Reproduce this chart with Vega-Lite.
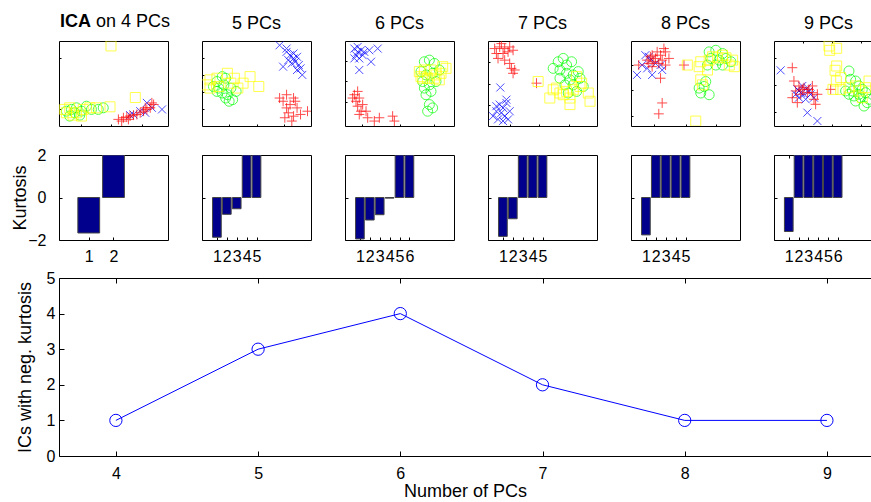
{
  "$schema": "https://vega.github.io/schema/vega-lite/v6.json",
  "padding": {"left": 11, "top": 12, "right": 0, "bottom": 0},
  "datasets": {
    "sc": [
      {"p":4,"g":"b","x":0.806,"y":0.272},{"p":4,"g":"b","x":0.852,"y":0.214},{"p":4,"g":"b","x":0.945,"y":0.195},{"p":4,"g":"b","x":0.745,"y":0.175},{"p":4,"g":"b","x":0.683,"y":0.136},{"p":4,"g":"b","x":0.791,"y":0.156},{"p":4,"g":"b","x":0.652,"y":0.128},
      {"p":4,"g":"r","x":0.545,"y":0.078},{"p":4,"g":"r","x":0.591,"y":0.097},{"p":4,"g":"r","x":0.622,"y":0.105},{"p":4,"g":"r","x":0.652,"y":0.117},{"p":4,"g":"r","x":0.683,"y":0.128},{"p":4,"g":"r","x":0.714,"y":0.136},{"p":4,"g":"r","x":0.745,"y":0.156},{"p":4,"g":"r","x":0.775,"y":0.175},{"p":4,"g":"r","x":0.806,"y":0.195},{"p":4,"g":"r","x":0.837,"y":0.214},{"p":4,"g":"r","x":0.868,"y":0.253},{"p":4,"g":"r","x":0.575,"y":0.058},{"p":4,"g":"r","x":0.637,"y":0.078},{"p":4,"g":"r","x":0.791,"y":0.214},{"p":4,"g":"r","x":0.852,"y":0.272},
      {"p":4,"g":"g","x":0.068,"y":0.175},{"p":4,"g":"g","x":0.114,"y":0.195},{"p":4,"g":"g","x":0.16,"y":0.214},{"p":4,"g":"g","x":0.206,"y":0.175},{"p":4,"g":"g","x":0.252,"y":0.233},{"p":4,"g":"g","x":0.298,"y":0.195},{"p":4,"g":"g","x":0.36,"y":0.195},{"p":4,"g":"g","x":0.406,"y":0.214},{"p":4,"g":"g","x":0.098,"y":0.117},{"p":4,"g":"g","x":0.191,"y":0.128},{"p":4,"g":"g","x":0.145,"y":0.156},
      {"p":4,"g":"y","x":0.052,"y":0.195},{"p":4,"g":"y","x":0.098,"y":0.214},{"p":4,"g":"y","x":0.16,"y":0.156},{"p":4,"g":"y","x":0.222,"y":0.195},{"p":4,"g":"y","x":0.283,"y":0.214},{"p":4,"g":"y","x":0.345,"y":0.214},{"p":4,"g":"y","x":0.468,"y":0.226},{"p":4,"g":"y","x":0.129,"y":0.128},{"p":4,"g":"y","x":0.068,"y":0.156},{"p":4,"g":"y","x":0.206,"y":0.117},{"p":4,"g":"y","x":0.477,"y":0.942},{"p":4,"g":"y","x":0.7,"y":0.335},

      {"p":5,"g":"b","x":0.712,"y":0.95},{"p":5,"g":"b","x":0.776,"y":0.872},{"p":5,"g":"b","x":0.808,"y":0.833},{"p":5,"g":"b","x":0.84,"y":0.795},{"p":5,"g":"b","x":0.872,"y":0.814},{"p":5,"g":"b","x":0.824,"y":0.736},{"p":5,"g":"b","x":0.856,"y":0.756},{"p":5,"g":"b","x":0.888,"y":0.717},{"p":5,"g":"b","x":0.904,"y":0.678},{"p":5,"g":"b","x":0.92,"y":0.601},{"p":5,"g":"b","x":0.744,"y":0.698},{"p":5,"g":"b","x":0.792,"y":0.775},{"p":5,"g":"b","x":0.776,"y":0.911},{"p":5,"g":"b","x":0.872,"y":0.659},{"p":5,"g":"b","x":0.84,"y":0.853},
      {"p":5,"g":"r","x":0.776,"y":0.368},{"p":5,"g":"r","x":0.84,"y":0.329},{"p":5,"g":"r","x":0.744,"y":0.291},{"p":5,"g":"r","x":0.808,"y":0.252},{"p":5,"g":"r","x":0.872,"y":0.213},{"p":5,"g":"r","x":0.792,"y":0.155},{"p":5,"g":"r","x":0.84,"y":0.116},{"p":5,"g":"r","x":0.76,"y":0.097},{"p":5,"g":"r","x":0.904,"y":0.136},{"p":5,"g":"r","x":0.824,"y":0.058},{"p":5,"g":"r","x":0.712,"y":0.329},{"p":5,"g":"r","x":0.968,"y":0.174},{"p":5,"g":"r","x":0.856,"y":0.291},{"p":5,"g":"r","x":0.776,"y":0.213},
      {"p":5,"g":"g","x":0.137,"y":0.523},{"p":5,"g":"g","x":0.185,"y":0.581},{"p":5,"g":"g","x":0.217,"y":0.562},{"p":5,"g":"g","x":0.201,"y":0.484},{"p":5,"g":"g","x":0.153,"y":0.446},{"p":5,"g":"g","x":0.185,"y":0.388},{"p":5,"g":"g","x":0.233,"y":0.368},{"p":5,"g":"g","x":0.281,"y":0.31},{"p":5,"g":"g","x":0.249,"y":0.291},{"p":5,"g":"g","x":0.137,"y":0.407},{"p":5,"g":"g","x":0.105,"y":0.465},{"p":5,"g":"g","x":0.265,"y":0.446},{"p":5,"g":"g","x":0.313,"y":0.407},{"p":5,"g":"g","x":0.217,"y":0.329},
      {"p":5,"g":"y","x":0.073,"y":0.543},{"p":5,"g":"y","x":0.137,"y":0.562},{"p":5,"g":"y","x":0.233,"y":0.62},{"p":5,"g":"y","x":0.297,"y":0.562},{"p":5,"g":"y","x":0.377,"y":0.504},{"p":5,"g":"y","x":0.441,"y":0.581},{"p":5,"g":"y","x":0.521,"y":0.465},{"p":5,"g":"y","x":0.073,"y":0.446},{"p":5,"g":"y","x":0.153,"y":0.465},{"p":5,"g":"y","x":0.329,"y":0.446},{"p":5,"g":"y","x":0.265,"y":0.504},{"p":5,"g":"y","x":0.042,"y":0.484},

      {"p":6,"g":"b","x":0.086,"y":0.911},{"p":6,"g":"b","x":0.116,"y":0.93},{"p":6,"g":"b","x":0.147,"y":0.891},{"p":6,"g":"b","x":0.101,"y":0.833},{"p":6,"g":"b","x":0.131,"y":0.795},{"p":6,"g":"b","x":0.177,"y":0.872},{"p":6,"g":"b","x":0.223,"y":0.891},{"p":6,"g":"b","x":0.3,"y":0.911},{"p":6,"g":"b","x":0.239,"y":0.756},{"p":6,"g":"b","x":0.131,"y":0.659},{"p":6,"g":"b","x":0.086,"y":0.795},{"p":6,"g":"b","x":0.162,"y":0.833},{"p":6,"g":"b","x":0.116,"y":0.872},
      {"p":6,"g":"r","x":0.086,"y":0.368},{"p":6,"g":"r","x":0.116,"y":0.407},{"p":6,"g":"r","x":0.131,"y":0.329},{"p":6,"g":"r","x":0.101,"y":0.291},{"p":6,"g":"r","x":0.116,"y":0.233},{"p":6,"g":"r","x":0.147,"y":0.174},{"p":6,"g":"r","x":0.131,"y":0.136},{"p":6,"g":"r","x":0.193,"y":0.174},{"p":6,"g":"r","x":0.208,"y":0.097},{"p":6,"g":"r","x":0.269,"y":0.058},{"p":6,"g":"r","x":0.315,"y":0.097},{"p":6,"g":"r","x":0.437,"y":0.116},{"p":6,"g":"r","x":0.453,"y":0.058},{"p":6,"g":"r","x":0.07,"y":0.329},{"p":6,"g":"r","x":0.162,"y":0.252},
      {"p":6,"g":"g","x":0.728,"y":0.756},{"p":6,"g":"g","x":0.774,"y":0.775},{"p":6,"g":"g","x":0.82,"y":0.736},{"p":6,"g":"g","x":0.697,"y":0.64},{"p":6,"g":"g","x":0.743,"y":0.601},{"p":6,"g":"g","x":0.804,"y":0.62},{"p":6,"g":"g","x":0.865,"y":0.659},{"p":6,"g":"g","x":0.713,"y":0.523},{"p":6,"g":"g","x":0.774,"y":0.484},{"p":6,"g":"g","x":0.835,"y":0.523},{"p":6,"g":"g","x":0.743,"y":0.368},{"p":6,"g":"g","x":0.789,"y":0.407},{"p":6,"g":"g","x":0.774,"y":0.252},{"p":6,"g":"g","x":0.758,"y":0.174},{"p":6,"g":"g","x":0.804,"y":0.213},{"p":6,"g":"g","x":0.728,"y":0.446},
      {"p":6,"g":"y","x":0.682,"y":0.64},{"p":6,"g":"y","x":0.728,"y":0.659},{"p":6,"g":"y","x":0.789,"y":0.659},{"p":6,"g":"y","x":0.835,"y":0.601},{"p":6,"g":"y","x":0.896,"y":0.698},{"p":6,"g":"y","x":0.927,"y":0.678},{"p":6,"g":"y","x":0.881,"y":0.62},{"p":6,"g":"y","x":0.713,"y":0.562},{"p":6,"g":"y","x":0.758,"y":0.562},{"p":6,"g":"y","x":0.82,"y":0.562},{"p":6,"g":"y","x":0.865,"y":0.543},{"p":6,"g":"y","x":0.697,"y":0.581},

      {"p":7,"g":"b","x":0.113,"y":0.453},{"p":7,"g":"b","x":0.107,"y":0.252},{"p":7,"g":"b","x":0.138,"y":0.213},{"p":7,"g":"b","x":0.169,"y":0.271},{"p":7,"g":"b","x":0.077,"y":0.174},{"p":7,"g":"b","x":0.123,"y":0.155},{"p":7,"g":"b","x":0.153,"y":0.116},{"p":7,"g":"b","x":0.184,"y":0.078},{"p":7,"g":"b","x":0.092,"y":0.078},{"p":7,"g":"b","x":0.046,"y":0.116},{"p":7,"g":"b","x":0.199,"y":0.174},{"p":7,"g":"b","x":0.138,"y":0.058},{"p":7,"g":"b","x":0.169,"y":0.31},{"p":7,"g":"b","x":0.077,"y":0.233},
      {"p":7,"g":"r","x":0.061,"y":0.911},{"p":7,"g":"r","x":0.107,"y":0.93},{"p":7,"g":"r","x":0.153,"y":0.911},{"p":7,"g":"r","x":0.199,"y":0.93},{"p":7,"g":"r","x":0.077,"y":0.853},{"p":7,"g":"r","x":0.138,"y":0.853},{"p":7,"g":"r","x":0.184,"y":0.872},{"p":7,"g":"r","x":0.23,"y":0.891},{"p":7,"g":"r","x":0.092,"y":0.795},{"p":7,"g":"r","x":0.153,"y":0.775},{"p":7,"g":"r","x":0.199,"y":0.736},{"p":7,"g":"r","x":0.215,"y":0.678},{"p":7,"g":"r","x":0.245,"y":0.659},{"p":7,"g":"r","x":0.23,"y":0.62},{"p":7,"g":"r","x":0.123,"y":0.969},{"p":7,"g":"r","x":0.445,"y":0.504},
      {"p":7,"g":"g","x":0.598,"y":0.678},{"p":7,"g":"g","x":0.644,"y":0.756},{"p":7,"g":"g","x":0.69,"y":0.795},{"p":7,"g":"g","x":0.721,"y":0.717},{"p":7,"g":"g","x":0.767,"y":0.756},{"p":7,"g":"g","x":0.66,"y":0.659},{"p":7,"g":"g","x":0.721,"y":0.62},{"p":7,"g":"g","x":0.782,"y":0.601},{"p":7,"g":"g","x":0.828,"y":0.64},{"p":7,"g":"g","x":0.844,"y":0.562},{"p":7,"g":"g","x":0.752,"y":0.543},{"p":7,"g":"g","x":0.706,"y":0.484},{"p":7,"g":"g","x":0.782,"y":0.484},{"p":7,"g":"g","x":0.874,"y":0.465},{"p":7,"g":"g","x":0.66,"y":0.562},{"p":7,"g":"g","x":0.813,"y":0.407},{"p":7,"g":"g","x":0.736,"y":0.388},
      {"p":7,"g":"y","x":0.46,"y":0.523},{"p":7,"g":"y","x":0.567,"y":0.329},{"p":7,"g":"y","x":0.629,"y":0.446},{"p":7,"g":"y","x":0.66,"y":0.388},{"p":7,"g":"y","x":0.721,"y":0.407},{"p":7,"g":"y","x":0.752,"y":0.329},{"p":7,"g":"y","x":0.782,"y":0.426},{"p":7,"g":"y","x":0.813,"y":0.581},{"p":7,"g":"y","x":0.859,"y":0.504},{"p":7,"g":"y","x":0.92,"y":0.388},{"p":7,"g":"y","x":0.936,"y":0.291},{"p":7,"g":"y","x":0.752,"y":0.252},{"p":7,"g":"y","x":0.69,"y":0.368},{"p":7,"g":"y","x":0.598,"y":0.426},{"p":7,"g":"y","x":0.844,"y":0.465},

      {"p":8,"g":"b","x":0.132,"y":0.833},{"p":8,"g":"b","x":0.178,"y":0.775},{"p":8,"g":"b","x":0.055,"y":0.601},{"p":8,"g":"b","x":0.194,"y":0.601},{"p":8,"g":"b","x":0.271,"y":0.717},{"p":8,"g":"b","x":0.286,"y":0.659},{"p":8,"g":"b","x":0.225,"y":0.736},{"p":8,"g":"b","x":0.102,"y":0.717},{"p":8,"g":"b","x":0.163,"y":0.814},{"p":8,"g":"b","x":0.148,"y":0.678},
      {"p":8,"g":"r","x":0.178,"y":0.814},{"p":8,"g":"r","x":0.225,"y":0.795},{"p":8,"g":"r","x":0.271,"y":0.833},{"p":8,"g":"r","x":0.209,"y":0.756},{"p":8,"g":"r","x":0.255,"y":0.736},{"p":8,"g":"r","x":0.302,"y":0.911},{"p":8,"g":"r","x":0.317,"y":0.872},{"p":8,"g":"r","x":0.286,"y":0.775},{"p":8,"g":"r","x":0.163,"y":0.736},{"p":8,"g":"r","x":0.194,"y":0.833},{"p":8,"g":"r","x":0.24,"y":0.872},{"p":8,"g":"r","x":0.317,"y":0.717},{"p":8,"g":"r","x":0.271,"y":0.562},{"p":8,"g":"r","x":0.286,"y":0.271},{"p":8,"g":"r","x":0.255,"y":0.143},{"p":8,"g":"r","x":0.071,"y":0.717},{"p":8,"g":"r","x":0.486,"y":0.717},{"p":8,"g":"r","x":0.148,"y":0.775},{"p":8,"g":"r","x":0.348,"y":0.795},{"p":8,"g":"r","x":0.194,"y":0.698},
      {"p":8,"g":"g","x":0.717,"y":0.872},{"p":8,"g":"g","x":0.778,"y":0.891},{"p":8,"g":"g","x":0.84,"y":0.853},{"p":8,"g":"g","x":0.732,"y":0.795},{"p":8,"g":"g","x":0.809,"y":0.775},{"p":8,"g":"g","x":0.871,"y":0.795},{"p":8,"g":"g","x":0.917,"y":0.756},{"p":8,"g":"g","x":0.778,"y":0.717},{"p":8,"g":"g","x":0.84,"y":0.717},{"p":8,"g":"g","x":0.702,"y":0.717},{"p":8,"g":"g","x":0.671,"y":0.465},{"p":8,"g":"g","x":0.64,"y":0.388},{"p":8,"g":"g","x":0.717,"y":0.368},{"p":8,"g":"g","x":0.686,"y":0.523},{"p":8,"g":"g","x":0.625,"y":0.446},
      {"p":8,"g":"y","x":0.517,"y":0.717},{"p":8,"g":"y","x":0.625,"y":0.698},{"p":8,"g":"y","x":0.64,"y":0.756},{"p":8,"g":"y","x":0.717,"y":0.775},{"p":8,"g":"y","x":0.748,"y":0.814},{"p":8,"g":"y","x":0.794,"y":0.802},{"p":8,"g":"y","x":0.871,"y":0.802},{"p":8,"g":"y","x":0.932,"y":0.775},{"p":8,"g":"y","x":0.948,"y":0.698},{"p":8,"g":"y","x":0.702,"y":0.659},{"p":8,"g":"y","x":0.64,"y":0.543},{"p":8,"g":"y","x":0.655,"y":0.484},{"p":8,"g":"y","x":0.594,"y":0.058},{"p":8,"g":"y","x":0.84,"y":0.833},{"p":8,"g":"y","x":0.902,"y":0.717},

      {"p":9,"g":"b","x":0.061,"y":0.655},{"p":9,"g":"b","x":0.214,"y":0.431},{"p":9,"g":"b","x":0.245,"y":0.392},{"p":9,"g":"b","x":0.275,"y":0.373},{"p":9,"g":"b","x":0.229,"y":0.333},{"p":9,"g":"b","x":0.306,"y":0.451},{"p":9,"g":"b","x":0.26,"y":0.471},{"p":9,"g":"b","x":0.321,"y":0.412},{"p":9,"g":"b","x":0.199,"y":0.373},{"p":9,"g":"b","x":0.291,"y":0.314},{"p":9,"g":"b","x":0.367,"y":0.333},{"p":9,"g":"b","x":0.306,"y":0.157},{"p":9,"g":"b","x":0.398,"y":0.059},{"p":9,"g":"b","x":0.229,"y":0.412},{"p":9,"g":"b","x":0.336,"y":0.373},
      {"p":9,"g":"r","x":0.168,"y":0.686},{"p":9,"g":"r","x":0.183,"y":0.529},{"p":9,"g":"r","x":0.229,"y":0.471},{"p":9,"g":"r","x":0.275,"y":0.451},{"p":9,"g":"r","x":0.321,"y":0.431},{"p":9,"g":"r","x":0.352,"y":0.471},{"p":9,"g":"r","x":0.199,"y":0.412},{"p":9,"g":"r","x":0.245,"y":0.373},{"p":9,"g":"r","x":0.168,"y":0.333},{"p":9,"g":"r","x":0.306,"y":0.392},{"p":9,"g":"r","x":0.367,"y":0.314},{"p":9,"g":"r","x":0.382,"y":0.255},{"p":9,"g":"r","x":0.214,"y":0.275},{"p":9,"g":"r","x":0.52,"y":0.431},{"p":9,"g":"r","x":0.26,"y":0.431},{"p":9,"g":"r","x":0.352,"y":0.392},{"p":9,"g":"r","x":0.398,"y":0.373},
      {"p":9,"g":"g","x":0.688,"y":0.647},{"p":9,"g":"g","x":0.703,"y":0.549},{"p":9,"g":"g","x":0.749,"y":0.529},{"p":9,"g":"g","x":0.78,"y":0.471},{"p":9,"g":"g","x":0.719,"y":0.412},{"p":9,"g":"g","x":0.78,"y":0.373},{"p":9,"g":"g","x":0.841,"y":0.392},{"p":9,"g":"g","x":0.795,"y":0.333},{"p":9,"g":"g","x":0.856,"y":0.275},{"p":9,"g":"g","x":0.749,"y":0.294},{"p":9,"g":"g","x":0.688,"y":0.373},{"p":9,"g":"g","x":0.81,"y":0.431},{"p":9,"g":"g","x":0.734,"y":0.353},{"p":9,"g":"g","x":0.657,"y":0.412},{"p":9,"g":"g","x":0.872,"y":0.314},{"p":9,"g":"g","x":0.826,"y":0.235},
      {"p":9,"g":"y","x":0.505,"y":0.941},{"p":9,"g":"y","x":0.575,"y":0.914},{"p":9,"g":"y","x":0.511,"y":0.89},{"p":9,"g":"y","x":0.575,"y":0.706},{"p":9,"g":"y","x":0.56,"y":0.655},{"p":9,"g":"y","x":0.572,"y":0.529},{"p":9,"g":"y","x":0.541,"y":0.431},{"p":9,"g":"y","x":0.612,"y":0.431},{"p":9,"g":"y","x":0.688,"y":0.451},{"p":9,"g":"y","x":0.78,"y":0.412},{"p":9,"g":"y","x":0.841,"y":0.451},{"p":9,"g":"y","x":0.872,"y":0.529},{"p":9,"g":"y","x":0.612,"y":0.569},{"p":9,"g":"y","x":0.749,"y":0.471},{"p":9,"g":"y","x":0.81,"y":0.333}
    ],
    "kb": [
      {"p":4,"i":1,"k":-1.67},{"p":4,"i":2,"k":2},
      {"p":5,"i":1,"k":-1.87},{"p":5,"i":2,"k":-0.79},{"p":5,"i":3,"k":-0.53},{"p":5,"i":4,"k":2},{"p":5,"i":5,"k":2},
      {"p":6,"i":1,"k":-1.95},{"p":6,"i":2,"k":-1.06},{"p":6,"i":3,"k":-0.81},{"p":6,"i":4,"k":-0.03},{"p":6,"i":5,"k":2},{"p":6,"i":6,"k":2},
      {"p":7,"i":1,"k":-1.83},{"p":7,"i":2,"k":-1.0},{"p":7,"i":3,"k":2},{"p":7,"i":4,"k":2},{"p":7,"i":5,"k":2},
      {"p":8,"i":1,"k":-1.76},{"p":8,"i":2,"k":2},{"p":8,"i":3,"k":2},{"p":8,"i":4,"k":2},{"p":8,"i":5,"k":2},
      {"p":9,"i":1,"k":-1.6},{"p":9,"i":2,"k":2},{"p":9,"i":3,"k":2},{"p":9,"i":4,"k":2},{"p":9,"i":5,"k":2},{"p":9,"i":6,"k":2}
    ],
    "ln": [
      {"n":4,"c":1},{"n":5,"c":3},{"n":6,"c":4},{"n":7,"c":2},{"n":8,"c":1},{"n":9,"c":1}
    ]
  },
  "spacing": 5,
  "vconcat": [
    {
      "spacing": 19,
      "vconcat": [
        {
          "bounds": "flush",
          "spacing": 34,
          "hconcat": [
            {
              "width": 109, "height": 85,
              "layer": [
                {
                  "data": {"name": "sc"},
                  "transform": [{"filter": "datum.p == 4"}],
                  "mark": {"type": "point", "filled": false, "size": 100, "strokeWidth": 1, "clip": true},
                  "encoding": {
                    "x": {"field": "x", "type": "quantitative", "scale": {"domain": [0, 1], "nice": false, "zero": false}, "axis": {"title": null, "labels": false, "domain": false, "tickSize": -2, "values": [0.2, 0.48, 0.76]}},
                    "y": {"field": "y", "type": "quantitative", "scale": {"domain": [0, 1], "nice": false, "zero": false}, "axis": {"title": null, "labels": false, "domain": false, "tickSize": -2, "values": [0.2, 0.4, 0.6, 0.8]}},
                    "color": {"field": "g", "type": "nominal", "scale": {"domain": ["b", "r", "g", "y"], "range": ["#0000ff", "#ff0000", "#00ff00", "#ffff00"]}, "legend": null},
                    "shape": {"field": "g", "type": "nominal", "scale": {"domain": ["b", "r", "g", "y"], "range": ["M-0.8,-0.8L0.8,0.8M-0.8,0.8L0.8,-0.8", "M-1,0L1,0M0,-1L0,1", "circle", "square"]}, "legend": null}
                  }
                },
                {
                  "data": {"values": [{"t": "ICA"}]},
                  "mark": {"type": "text", "fontWeight": "bold", "fontSize": 18, "align": "right", "baseline": "alphabetic", "color": "black"},
                  "encoding": {"text": {"field": "t"}, "x": {"datum": 0.294, "type": "quantitative"}, "y": {"datum": 1.165, "type": "quantitative"}}
                },
                {
                  "data": {"values": [{"t": "on 4 PCs"}]},
                  "mark": {"type": "text", "fontSize": 18, "align": "left", "baseline": "alphabetic", "color": "black"},
                  "encoding": {"text": {"field": "t"}, "x": {"datum": 0.339, "type": "quantitative"}, "y": {"datum": 1.165, "type": "quantitative"}}
                }
              ]
            },
            {
              "width": 109, "height": 85, "title": "5 PCs",
              "data": {"name": "sc"},
              "transform": [{"filter": "datum.p == 5"}],
              "mark": {"type": "point", "filled": false, "size": 100, "strokeWidth": 1, "clip": true},
              "encoding": {
                "x": {"field": "x", "type": "quantitative", "scale": {"domain": [0, 1], "nice": false, "zero": false}, "axis": {"title": null, "labels": false, "domain": false, "tickSize": -2, "values": [0.25, 0.5, 0.75]}},
                "y": {"field": "y", "type": "quantitative", "scale": {"domain": [0, 1], "nice": false, "zero": false}, "axis": {"title": null, "labels": false, "domain": false, "tickSize": -2, "values": [0.2, 0.4, 0.6, 0.8]}},
                "color": {"field": "g", "type": "nominal", "legend": null},
                "shape": {"field": "g", "type": "nominal", "legend": null}
              }
            },
            {
              "width": 109, "height": 85, "title": "6 PCs",
              "data": {"name": "sc"},
              "transform": [{"filter": "datum.p == 6"}],
              "mark": {"type": "point", "filled": false, "size": 100, "strokeWidth": 1, "clip": true},
              "encoding": {
                "x": {"field": "x", "type": "quantitative", "scale": {"domain": [0, 1], "nice": false, "zero": false}, "axis": {"title": null, "labels": false, "domain": false, "tickSize": -2, "values": [0.16, 0.5, 0.82]}},
                "y": {"field": "y", "type": "quantitative", "scale": {"domain": [0, 1], "nice": false, "zero": false}, "axis": {"title": null, "labels": false, "domain": false, "tickSize": -2, "values": [0.28, 0.53, 0.77]}},
                "color": {"field": "g", "type": "nominal", "legend": null},
                "shape": {"field": "g", "type": "nominal", "legend": null}
              }
            },
            {
              "width": 109, "height": 85, "title": "7 PCs",
              "data": {"name": "sc"},
              "transform": [{"filter": "datum.p == 7"}],
              "mark": {"type": "point", "filled": false, "size": 100, "strokeWidth": 1, "clip": true},
              "encoding": {
                "x": {"field": "x", "type": "quantitative", "scale": {"domain": [0, 1], "nice": false, "zero": false}, "axis": {"title": null, "labels": false, "domain": false, "tickSize": -2, "values": [0.2, 0.47, 0.74]}},
                "y": {"field": "y", "type": "quantitative", "scale": {"domain": [0, 1], "nice": false, "zero": false}, "axis": {"title": null, "labels": false, "domain": false, "tickSize": -2, "values": [0.25, 0.5, 0.75]}},
                "color": {"field": "g", "type": "nominal", "legend": null},
                "shape": {"field": "g", "type": "nominal", "legend": null}
              }
            },
            {
              "width": 109, "height": 85, "title": "8 PCs",
              "data": {"name": "sc"},
              "transform": [{"filter": "datum.p == 8"}],
              "mark": {"type": "point", "filled": false, "size": 100, "strokeWidth": 1, "clip": true},
              "encoding": {
                "x": {"field": "x", "type": "quantitative", "scale": {"domain": [0, 1], "nice": false, "zero": false}, "axis": {"title": null, "labels": false, "domain": false, "tickSize": -2, "values": [0.21, 0.5, 0.78]}},
                "y": {"field": "y", "type": "quantitative", "scale": {"domain": [0, 1], "nice": false, "zero": false}, "axis": {"title": null, "labels": false, "domain": false, "tickSize": -2, "values": [0.12, 0.42, 0.72]}},
                "color": {"field": "g", "type": "nominal", "legend": null},
                "shape": {"field": "g", "type": "nominal", "legend": null}
              }
            },
            {
              "width": 97, "height": 85,
              "title": {"text": "9 PCs", "dx": 6},
              "view": {"stroke": null},
              "data": {"name": "sc"},
              "transform": [{"filter": "datum.p == 9"}],
              "layer": [
                {
                  "mark": {"type": "point", "filled": false, "size": 100, "strokeWidth": 1, "clip": true},
                  "encoding": {
                    "x": {"field": "x", "type": "quantitative", "scale": {"domain": [0, 0.89], "nice": false, "zero": false}, "axis": {"title": null, "labels": false, "domain": true, "tickSize": -2, "values": [0.27, 0.53, 0.8]}},
                    "y": {"field": "y", "type": "quantitative", "scale": {"domain": [0, 1], "nice": false, "zero": false}, "axis": {"title": null, "labels": false, "domain": true, "tickSize": -2, "values": [0.16, 0.48, 0.8]}},
                    "color": {"field": "g", "type": "nominal", "legend": null},
                    "shape": {"field": "g", "type": "nominal", "legend": null}
                  }
                },
                {
                  "mark": {"type": "point", "opacity": 0, "clip": true},
                  "encoding": {
                    "x": {"field": "x", "type": "quantitative", "axis": {"orient": "top", "title": null, "labels": false, "domain": true, "tickSize": -2, "values": [0.27, 0.53, 0.8]}}
                  }
                }
              ],
              "resolve": {"axis": {"x": "independent"}}
            }
          ]
        },
        {
          "bounds": "flush",
          "spacing": 34,
          "hconcat": [
            {
              "width": 109, "height": 85,
              "data": {"name": "kb"},
              "transform": [{"filter": "datum.p == 4"}],
              "mark": {"type": "bar", "orient": "vertical", "width": 21.8, "color": "#00008c", "stroke": "#444444", "strokeWidth": 1, "clip": true},
              "encoding": {
                "x": {"field": "i", "type": "quantitative", "scale": {"domain": [0, 4], "nice": false, "zero": false}, "axis": {"title": null, "domain": false, "values": [1, 2], "tickSize": -3, "labelPadding": 11, "labelOverlap": false, "labelFlush": false, "format": "d"}},
                "y": {"field": "k", "type": "quantitative", "scale": {"domain": [-2, 2], "nice": false}, "axis": {"title": "Kurtosis", "domain": false, "values": [-2, 0, 2], "tickSize": -3, "labelPadding": 16, "titlePadding": -2, "labelOverlap": false, "labelFlush": false}}
              }
            },
            {
              "width": 109, "height": 85,
              "data": {"name": "kb"},
              "transform": [{"filter": "datum.p == 5"}],
              "mark": {"type": "bar", "orient": "vertical", "width": 8.7, "color": "#00008c", "stroke": "#444444", "strokeWidth": 1, "clip": true},
              "encoding": {
                "x": {"field": "i", "type": "quantitative", "scale": {"domain": [0, 10], "nice": false, "zero": false}, "axis": {"title": null, "domain": false, "values": [1, 2, 3, 4, 5], "tickSize": -3, "labelPadding": 11, "labelOverlap": false, "labelFlush": false, "format": "d"}},
                "y": {"field": "k", "type": "quantitative", "scale": {"domain": [-2, 2], "nice": false}, "axis": {"title": null, "domain": false, "labels": false, "values": [-2, 0, 2], "tickSize": -3}}
              }
            },
            {
              "width": 109, "height": 85,
              "data": {"name": "kb"},
              "transform": [{"filter": "datum.p == 6"}],
              "mark": {"type": "bar", "orient": "vertical", "width": 8.7, "color": "#00008c", "stroke": "#444444", "strokeWidth": 1, "clip": true},
              "encoding": {
                "x": {"field": "i", "type": "quantitative", "scale": {"domain": [0, 10], "nice": false, "zero": false}, "axis": {"title": null, "domain": false, "values": [1, 2, 3, 4, 5, 6], "tickSize": -3, "labelPadding": 11, "labelOverlap": false, "labelFlush": false, "format": "d"}},
                "y": {"field": "k", "type": "quantitative", "scale": {"domain": [-2, 2], "nice": false}, "axis": {"title": null, "domain": false, "labels": false, "values": [-2, 0, 2], "tickSize": -3}}
              }
            },
            {
              "width": 109, "height": 85,
              "data": {"name": "kb"},
              "transform": [{"filter": "datum.p == 7"}],
              "mark": {"type": "bar", "orient": "vertical", "width": 8.7, "color": "#00008c", "stroke": "#444444", "strokeWidth": 1, "clip": true},
              "encoding": {
                "x": {"field": "i", "type": "quantitative", "scale": {"domain": [0, 10], "nice": false, "zero": false}, "axis": {"title": null, "domain": false, "values": [1, 2, 3, 4, 5], "tickSize": -3, "labelPadding": 11, "labelOverlap": false, "labelFlush": false, "format": "d"}},
                "y": {"field": "k", "type": "quantitative", "scale": {"domain": [-2, 2], "nice": false}, "axis": {"title": null, "domain": false, "labels": false, "values": [-2, 0, 2], "tickSize": -3}}
              }
            },
            {
              "width": 109, "height": 85,
              "data": {"name": "kb"},
              "transform": [{"filter": "datum.p == 8"}],
              "mark": {"type": "bar", "orient": "vertical", "width": 8.7, "color": "#00008c", "stroke": "#444444", "strokeWidth": 1, "clip": true},
              "encoding": {
                "x": {"field": "i", "type": "quantitative", "scale": {"domain": [0, 10], "nice": false, "zero": false}, "axis": {"title": null, "domain": false, "values": [1, 2, 3, 4, 5], "tickSize": -3, "labelPadding": 11, "labelOverlap": false, "labelFlush": false, "format": "d"}},
                "y": {"field": "k", "type": "quantitative", "scale": {"domain": [-2, 2], "nice": false}, "axis": {"title": null, "domain": false, "labels": false, "values": [-2, 0, 2], "tickSize": -3}}
              }
            },
            {
              "width": 97, "height": 85,
              "view": {"stroke": null},
              "data": {"name": "kb"},
              "transform": [{"filter": "datum.p == 9"}],
              "layer": [
                {
                  "mark": {"type": "bar", "orient": "vertical", "width": 8.7, "color": "#00008c", "stroke": "#444444", "strokeWidth": 1, "clip": true},
                  "encoding": {
                    "x": {"field": "i", "type": "quantitative", "scale": {"domain": [0, 8.9], "nice": false, "zero": false}, "axis": {"title": null, "domain": true, "values": [1, 2, 3, 4, 5, 6], "tickSize": -3, "labelPadding": 11, "labelOverlap": false, "labelFlush": false, "format": "d"}},
                    "y": {"field": "k", "type": "quantitative", "scale": {"domain": [-2, 2], "nice": false}, "axis": {"title": null, "domain": true, "labels": false, "values": [-2, 0, 2], "tickSize": -3}}
                  }
                },
                {
                  "mark": {"type": "point", "opacity": 0, "clip": true},
                  "encoding": {
                    "x": {"field": "i", "type": "quantitative", "axis": {"orient": "top", "title": null, "labels": false, "domain": true, "tickSize": -3, "values": [1, 2, 3, 4, 5, 6]}}
                  }
                }
              ],
              "resolve": {"axis": {"x": "independent"}}
            }
          ]
        }
      ]
    },
    {
      "width": 812, "height": 178,
      "view": {"stroke": null},
      "data": {"name": "ln"},
      "layer": [
        {
          "mark": {"type": "line", "color": "#0000ff", "strokeWidth": 1, "point": {"filled": false, "size": 150, "color": "#0000ff", "strokeWidth": 1}},
          "encoding": {
            "x": {"field": "n", "type": "quantitative", "scale": {"domain": [3.6, 9.31], "nice": false, "zero": false}, "axis": {"title": "Number of PCs", "domain": true, "values": [4, 5, 6, 7, 8, 9], "tickSize": -5, "labelPadding": 14, "titlePadding": 1, "labelFlush": false}},
            "y": {"field": "c", "type": "quantitative", "scale": {"domain": [0, 5], "nice": false}, "axis": {"title": "ICs with neg. kurtosis", "domain": true, "values": [0, 1, 2, 3, 4, 5], "tickSize": -5, "labelPadding": 9, "titlePadding": 12, "labelFlush": false}}
          }
        },
        {
          "mark": {"type": "point", "opacity": 0},
          "encoding": {
            "x": {"field": "n", "type": "quantitative", "axis": {"orient": "top", "title": null, "labels": false, "domain": true, "tickSize": -5, "values": [4, 5, 6, 7, 8, 9]}}
          }
        }
      ],
      "resolve": {"axis": {"x": "independent"}}
    }
  ],
  "config": {
    "font": "Liberation Sans",
    "background": "white",
    "view": {"stroke": "black", "strokeWidth": 1},
    "axis": {"labelFont": "Liberation Sans", "titleFont": "Liberation Sans", "labelFontSize": 16, "titleFontSize": 18, "titleFontWeight": "normal", "labelColor": "black", "titleColor": "black", "tickColor": "black", "domainColor": "black", "domainWidth": 1, "tickWidth": 1, "grid": false},
    "title": {"font": "Liberation Sans", "fontSize": 18, "fontWeight": "normal", "color": "black", "offset": 8, "anchor": "middle"}
  }
}
